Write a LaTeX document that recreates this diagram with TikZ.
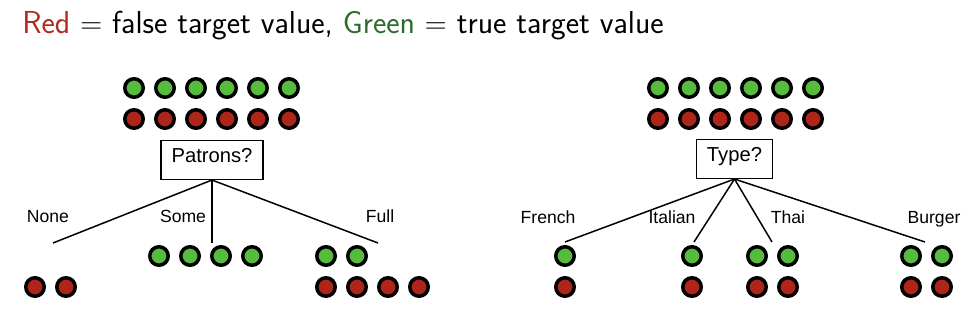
\documentclass[tikz,border=0pt]{standalone}
\usepackage{fontspec}
\newfontfamily\helv{Liberation Sans}
\definecolor{ballgreen}{HTML}{56BC3E}
\definecolor{ballred}{HTML}{AF2519}
\definecolor{titlered}{HTML}{B0281E}
\definecolor{titlegreen}{HTML}{2F6B2F}
\tikzset{
  greenball/.style={draw=black, fill=ballgreen, line width=2pt},
  redball/.style={draw=black, fill=ballred, line width=2pt},
  test/.style={draw, line width=0.6pt, font=\helv\fontsize{11.5}{13}\selectfont,
    minimum height=0.78cm, inner xsep=6pt, text height=8pt, text depth=5pt},
  branch/.style={font=\helv\fontsize{10}{12}\selectfont, anchor=base, inner sep=0pt},
  edge/.style={line width=0.85pt}
}

\begin{document}
\begin{tikzpicture}[x=0.02cm,y=-0.02cm]
\useasboundingbox (0,0) rectangle (977,331);
\node[anchor=base west, inner sep=0pt, font=\sffamily\fontsize{18.1}{21}\selectfont] (title) at (22,34)
  {\textcolor{titlered}{Red} $=$ false target value, \textcolor{titlegreen}{Green} $=$ true target value};

\foreach \x in {134,165,...,289} {
  \draw[greenball] (\x,88) circle[radius=0.185cm];
  \draw[redball] (\x,119) circle[radius=0.185cm];
}
\node[test] (patrons) at (212,160) {Patrons?};
\coordinate (none) at (53,243);
\coordinate (some) at (212,243);
\coordinate (full) at (378,243);
\draw[edge] (patrons.south) -- (none);
\draw[edge] (patrons.south) -- (some);
\draw[edge] (patrons.south) -- (full);
\node[branch] (none-lbl) at (48,222) {None};
\node[branch] (some-lbl) at (183,222) {Some};
\node[branch] (full-lbl) at (380,222) {Full};
\foreach \x in {35,66} \draw[redball] (\x,287) circle[radius=0.185cm];
\foreach \x in {159,190,221,252} \draw[greenball] (\x,256) circle[radius=0.185cm];
\foreach \x in {326,357} \draw[greenball] (\x,256) circle[radius=0.185cm];
\foreach \x in {326,357,388,419} \draw[redball] (\x,287) circle[radius=0.185cm];

\foreach \x in {658,689,...,813} {
  \draw[greenball] (\x,88) circle[radius=0.185cm];
  \draw[redball] (\x,119) circle[radius=0.185cm];
}
\node[test] (type) at (734.5,159) {Type?};
\coordinate (french) at (565,242);
\coordinate (italian) at (694,242);
\coordinate (thai) at (772,242);
\coordinate (burger) at (925,242);
\foreach \b in {french,italian,thai,burger}
  \draw[edge] (type.south) -- (\b);
\node[branch] (french-lbl) at (548,223) {French};
\node[branch] (italian-lbl) at (672,223) {Italian};
\node[branch] (thai-lbl) at (788,223) {Thai};
\node[branch] (burger-lbl) at (934,223) {Burger};
\foreach \x in {565,692,757,788,911,942} {
  \draw[greenball] (\x,256) circle[radius=0.185cm];
  \draw[redball] (\x,287) circle[radius=0.185cm];
}
\end{tikzpicture}
\end{document}
